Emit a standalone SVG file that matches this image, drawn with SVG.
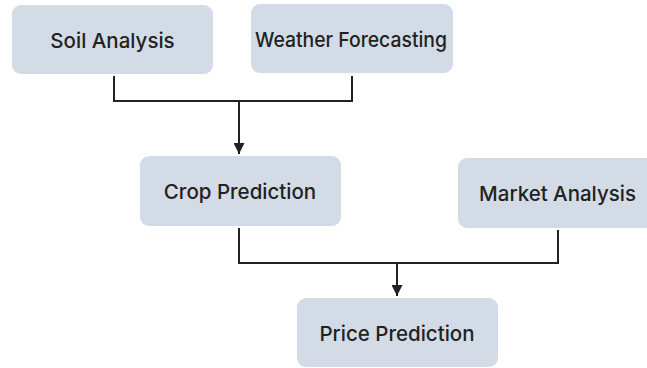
<svg xmlns="http://www.w3.org/2000/svg" width="647" height="368" viewBox="0 0 647 368">
<style>
.box{fill:#d3dce6;}
.lbl{font-family:Inter,"Noto Sans",sans-serif;font-size:20.5px;font-weight:500;fill:#222;text-anchor:middle;dominant-baseline:central;}
.conn{fill:none;stroke:#222;stroke-width:2;}
</style>
<defs>
<marker id="arr" viewBox="0 0 10 10" refX="10" refY="5" markerWidth="5.5" markerHeight="5.5" orient="auto" markerUnits="strokeWidth">
<path d="M0,0L10,5L0,10z" fill="#222"/>
</marker>
</defs>
<rect width="647" height="368" fill="#ffffff"/>
<g id="connectors">
<path class="conn" d="M114,76V101H352V76"/>
<path class="conn" d="M239,101V154" marker-end="url(#arr)"/>
<path class="conn" d="M239,228V263H558V230"/>
<path class="conn" d="M397,263V296" marker-end="url(#arr)"/>
</g>
<g id="soil-analysis">
<rect class="box" x="12" y="5" width="201" height="69" rx="9"/>
<text class="lbl" x="112.5" y="40">Soil Analysis</text>
</g>
<g id="weather-forecasting">
<rect class="box" x="251" y="4" width="202" height="69" rx="9"/>
<text class="lbl" x="351" y="39" textLength="192" lengthAdjust="spacingAndGlyphs">Weather Forecasting</text>
</g>
<g id="crop-prediction">
<rect class="box" x="140" y="156" width="201" height="70" rx="9"/>
<text class="lbl" x="240" y="191">Crop Prediction</text>
</g>
<g id="market-analysis">
<rect class="box" x="458" y="158" width="201" height="70" rx="9"/>
<text class="lbl" x="557.5" y="193">Market Analysis</text>
</g>
<g id="price-prediction">
<rect class="box" x="297" y="298" width="201" height="69" rx="9"/>
<text class="lbl" x="397" y="333">Price Prediction</text>
</g>
</svg>
